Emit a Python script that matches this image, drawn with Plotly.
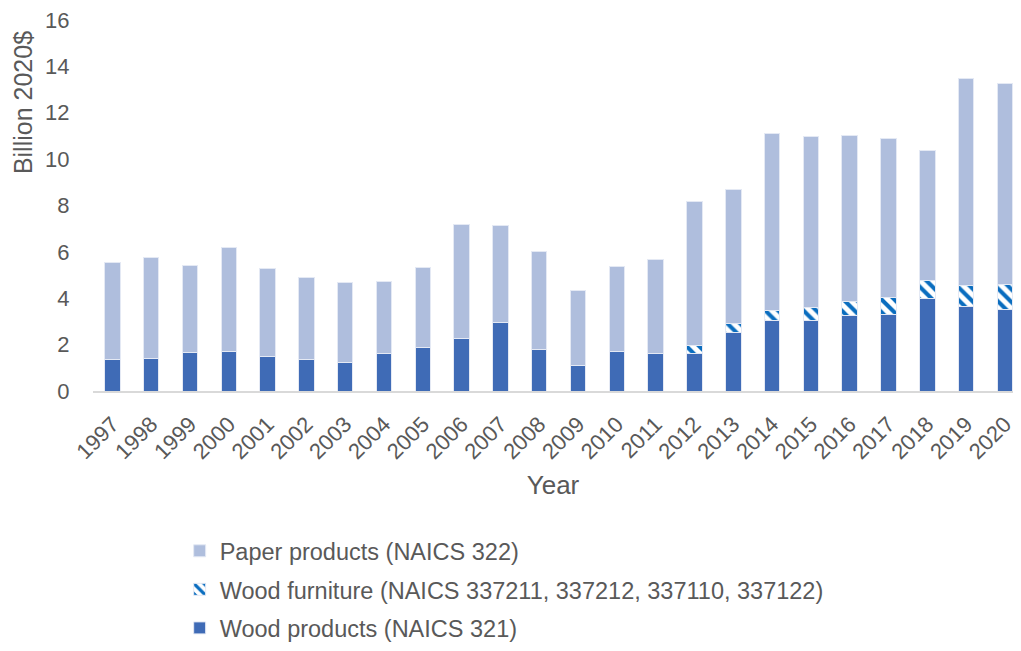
import plotly.graph_objects as go

# Dados
anos = [str(a) for a in range(1997, 2021)]
madeira = [1.38, 1.41, 1.67, 1.71, 1.49, 1.35, 1.22, 1.61, 1.88, 2.28,
           2.95, 1.80, 1.10, 1.70, 1.62, 1.62, 2.53, 3.02, 3.06, 3.26,
           3.32, 3.97, 3.65, 3.52]
moveis = [0, 0, 0, 0, 0, 0, 0, 0, 0, 0,
          0, 0, 0, 0, 0, 0.36, 0.39, 0.44, 0.55, 0.62,
          0.72, 0.78, 0.89, 1.08]
total = [5.56, 5.75, 5.40, 6.18, 5.29, 4.91, 4.66, 4.74, 5.31, 7.16,
         7.15, 6.02, 4.32, 5.36, 5.68, 8.19, 8.68, 11.10, 10.99, 11.03,
         10.88, 10.39, 13.47, 13.28]
papel = [round(t - m - f, 2) for t, m, f in zip(total, madeira, moveis)]

text_color = "#595959"
fonte = "Liberation Sans, Arial, sans-serif"

fig = go.Figure()
fig.add_trace(go.Bar(x=anos, y=madeira, name="Wood products (NAICS 321)",
                     legendgroup="a", legendrank=3,
                     marker=dict(color="#3F6BB6", line=dict(color="#E4E9F4", width=1))))
fig.add_trace(go.Bar(x=anos, y=moveis, name="Wood furniture (NAICS 337211, 337212, 337110, 337122)",
                     legendgroup="b", legendrank=2,
                     marker=dict(color="white", line=dict(color="#E4E9F4", width=1),
                                 pattern=dict(shape="\\", fgcolor="#0A6DBF", bgcolor="white",
                                              size=9, solidity=0.45, fillmode="replace"))))
fig.add_trace(go.Bar(x=anos, y=papel, name="Paper products (NAICS 322)",
                     legendgroup="c", legendrank=1,
                     marker=dict(color="#AFBEDD", line=dict(color="#E4E9F4", width=1))))

# A página tem 8px de margem no body: figura menor para não gerar rolagem
fig.update_layout(
    barmode="stack", bargap=0.6,
    width=1005, height=635,
    margin=dict(l=85, r=0, t=12, b=252, autoexpand=False),
    plot_bgcolor="white", paper_bgcolor="white",
    font=dict(family=fonte, size=22, color=text_color),
    showlegend=True,
    legend=dict(orientation="v", traceorder="grouped", tracegroupgap=5,
                x=0.0942, y=-0.372, xanchor="left", yanchor="top",
                font=dict(size=23.5, color=text_color), itemwidth=30),
)

# Título do eixo Y posicionado no topo, como no original
fig.add_annotation(text="Billion 2020$", textangle=-90, showarrow=False,
                   xref="paper", yref="paper", x=0, y=0.776, xshift=-70,
                   xanchor="center", yanchor="middle",
                   font=dict(size=25, color=text_color))

fig.update_xaxes(
    title=dict(text="Year", font=dict(size=26, color=text_color), standoff=13),
    tickangle=-45, range=[-0.5, 23.21],
    showline=True, linecolor="#D9D9D9", linewidth=1.5,
    showgrid=False, ticks="outside", ticklen=10, tickcolor="rgba(0,0,0,0)",
    tickfont=dict(size=22, color=text_color),
)
fig.update_yaxes(
    range=[0, 16], dtick=2, ticklabeloverflow="allow",
    showgrid=False, zeroline=False, showline=False,
    ticks="outside", ticklen=18, tickcolor="rgba(0,0,0,0)",
    tickfont=dict(size=22, color=text_color),
)

fig.write_html("out.html")
